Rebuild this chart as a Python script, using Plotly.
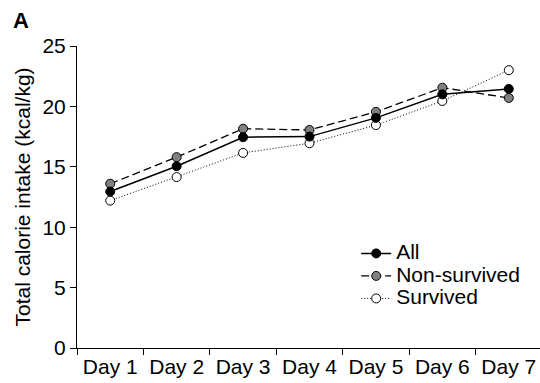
import plotly.graph_objects as go

days = ["Day 1", "Day 2", "Day 3", "Day 4", "Day 5", "Day 6", "Day 7"]
all_vals = [12.95, 15.05, 17.45, 17.5, 19.05, 21.0, 21.45]
non_survived = [13.6, 15.8, 18.15, 18.05, 19.55, 21.55, 20.7]
survived = [12.2, 14.15, 16.15, 16.95, 18.45, 20.45, 23.0]
y_ticks = [0, 5, 10, 15, 20, 25]

FONT = "Liberation Sans, Arial, Helvetica, sans-serif"
FS = 21

def big(t):
    return '<span style="font-size:%dpx">%s</span>' % (FS, t)

fig = go.Figure()
fig.add_trace(go.Scatter(
    x=days, y=survived, name=big("Survived"), mode="lines+markers",
    line=dict(color="black", width=1, dash="1px,2px"),
    marker=dict(symbol="circle", size=9, color="white", line=dict(color="black", width=1)),
    legendrank=3,
))
fig.add_trace(go.Scatter(
    x=days, y=non_survived, name=big("Non-survived"), mode="lines+markers",
    line=dict(color="black", width=1.3, dash="8px,4px"),
    marker=dict(symbol="circle", size=9, color="#808080", line=dict(color="black", width=1)),
    legendrank=2,
))
fig.add_trace(go.Scatter(
    x=days, y=all_vals, name=big("All"), mode="lines+markers",
    line=dict(color="black", width=1.5),
    marker=dict(symbol="circle", size=9, color="black", line=dict(color="black", width=1)),
    legendrank=1,
))

fig.update_layout(
    width=540, height=383,
    margin=dict(l=77, r=0, t=46, b=35),
    paper_bgcolor="white", plot_bgcolor="white",
    font=dict(family=FONT, size=FS, color="black"),
    showlegend=True,
    legend=dict(x=0.603, y=0.367, xanchor="left", yanchor="top",
                bgcolor="rgba(0,0,0,0)", borderwidth=0,
                font=dict(size=15), itemwidth=30),
    xaxis=dict(
        type="category", range=[-0.5, 6.47],
        showline=True, linecolor="black", linewidth=1,
        ticks="outside", tickson="boundaries", ticklen=6, tickwidth=1, tickcolor="black",
        showgrid=False, zeroline=False,
    ),
    yaxis=dict(
        range=[0, 25], tickvals=y_ticks,
        showline=True, linecolor="black", linewidth=1,
        ticks="outside", ticklen=6, tickwidth=1, tickcolor="black",
        showgrid=False, zeroline=False,
        title=dict(text="Total calorie intake (kcal/kg)", standoff=6, font=dict(size=FS)),
    ),
)
fig.add_annotation(text="<b>A</b>", xref="paper", yref="paper",
                   x=(11 - 77) / 463, y=1 + 25/302, xanchor="left", yanchor="middle",
                   showarrow=False, font=dict(size=22, family=FONT))

fig.write_html("out.html", config={"displayModeBar": False},
               post_script="document.body.style.margin='0';document.body.style.padding='0';")
